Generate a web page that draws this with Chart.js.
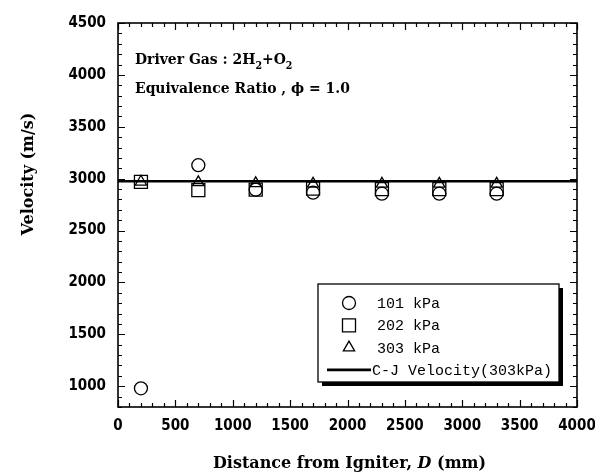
<!DOCTYPE html>
<html>
<head>
<meta charset="utf-8">
<script src="https://cdn.jsdelivr.net/npm/chart.js@4"></script>
<style>
  html, body { margin: 0; padding: 0; background: #fff; }
</style>
</head>
<body>
<canvas id="chart" width="595" height="472"></canvas>
<script>
// distance from igniter (mm)
const distances = [200, 700, 1200, 1700, 2300, 2800, 3300];
// measured velocities (m/s) per initial pressure
const vel101 = [980, 3130, 2895, 2865, 2855, 2855, 2855];
const vel202 = [2970, 2890, 2895, 2905, 2900, 2900, 2900];
const vel303 = [2970, 2965, 2955, 2950, 2950, 2950, 2950];
// C-J velocity line
const cjX = [0, 4000];
const cjY = [2975, 2975];
const seriesLabels = ["101 kPa", "202 kPa", "303 kPa", "C-J Velocity(303kPa)"];
const xTickLabels = [0, 500, 1000, 1500, 2000, 2500, 3000, 3500, 4000];
const yTickLabels = [1000, 1500, 2000, 2500, 3000, 3500, 4000, 4500];

const tickFont = { family: "'Liberation Sans Narrow', 'DejaVu Sans Condensed', sans-serif", size: 15, weight: "bold" };
const serif = "'DejaVu Serif Condensed', 'DejaVu Serif', serif";

const toPoints = (xs, ys) => xs.map((x, i) => ({ x: x, y: ys[i] }));

const marker = (style, r) => ({
  pointStyle: style,
  pointRadius: r,
  pointHoverRadius: r,
  pointBorderColor: "#000",
  pointBackgroundColor: "rgba(0,0,0,0)",
  pointBorderWidth: 1.3,
  showLine: false
});

// inward tick marks + closed frame
const frame = {
  id: "frame",
  afterDraw(chart) {
    const { ctx, chartArea: a, scales: { x, y } } = chart;
    ctx.save();
    ctx.strokeStyle = "#000";
    ctx.lineWidth = 1.2;
    ctx.beginPath();
    for (let v = x.min; v <= x.max; v += 100) {
      const px = Math.round(x.getPixelForValue(v)) + 0.5;
      const len = v % 500 === 0 ? 7 : 4;
      ctx.moveTo(px, a.bottom); ctx.lineTo(px, a.bottom - len);
      ctx.moveTo(px, a.top); ctx.lineTo(px, a.top + len);
    }
    for (let v = y.min; v <= y.max; v += 100) {
      const py = Math.round(y.getPixelForValue(v)) + 0.5;
      const len = v % 500 === 0 ? 7 : 4;
      ctx.moveTo(a.left, py); ctx.lineTo(a.left + len, py);
      ctx.moveTo(a.right, py); ctx.lineTo(a.right - len, py);
    }
    ctx.stroke();
    ctx.lineWidth = 1.6;
    ctx.strokeRect(a.left, a.top, a.right - a.left, a.bottom - a.top);
    ctx.restore();
  }
};

// annotation, axis titles and boxed legend
const texts = {
  id: "texts",
  afterDraw(chart) {
    const { ctx, chartArea: a } = chart;
    ctx.save();
    ctx.fillStyle = "#000";
    ctx.textBaseline = "alphabetic";

    // annotation
    const f = "bold 15.5px " + serif, fs = "bold 10.5px " + serif;
    let x = 135, y = 64;
    const put = (t, font, dy) => { ctx.font = font; ctx.fillText(t, x, y + dy); x += ctx.measureText(t).width; };
    put("Driver Gas : 2H", f, 0); put("2", fs, 5); put("+O", f, 0); put("2", fs, 5);
    x = 135; y = 93;
    put("Equivalence Ratio , ", f, 0); put("\u03D5", f, 0); put(" = 1.0", f, 0);

    // x title with italic D
    const tf = "bold 16px 'DejaVu Serif', serif";
    const parts = [["Distance from Igniter, ", tf], ["D", "italic " + tf], [" (mm)", tf]];
    let w = 0;
    parts.forEach(p => { ctx.font = p[1]; w += ctx.measureText(p[0]).width; });
    x = (a.left + a.right) / 2 - w / 2 + 2; y = 468;
    parts.forEach(p => put(p[0], p[1], 0));

    // y title
    ctx.translate(33, 174);
    ctx.rotate(-Math.PI / 2);
    ctx.font = tf;
    ctx.textAlign = "center";
    ctx.fillText("Velocity (m/s)", 0, 0);
    ctx.setTransform(1, 0, 0, 1, 0, 0);
    ctx.textAlign = "left";

    // legend box with shadow
    const bx = 318, by = 284, bw = 241, bh = 98;
    ctx.fillStyle = "#000";
    ctx.fillRect(bx + 4, by + 4, bw, bh);
    ctx.fillStyle = "#fff";
    ctx.fillRect(bx, by, bw, bh);
    ctx.strokeStyle = "#000";
    ctx.lineWidth = 1.3;
    ctx.strokeRect(bx, by, bw, bh);

    ctx.font = "15px 'Liberation Mono', 'DejaVu Sans Mono', monospace";
    ctx.textBaseline = "middle";
    chart.data.datasets.forEach((ds, i) => {
      const ry = by + 19 + i * 22.3;
      ctx.fillStyle = "#000";
      if (ds.type === "line") {
        ctx.lineWidth = ds.borderWidth;
        ctx.beginPath();
        ctx.moveTo(327, ry); ctx.lineTo(371, ry);
        ctx.stroke();
        ctx.fillText(ds.label, 372, ry + 1);
      } else {
        ctx.fillText(ds.label, 377, ry + 1);
        ctx.fillStyle = "#fff";
        ctx.lineWidth = ds.pointBorderWidth;
        Chart.helpers.drawPoint(ctx, {
          pointStyle: ds.pointStyle, radius: ds.pointRadius, borderWidth: ds.pointBorderWidth
        }, 349, ry);
      }
    });
    ctx.restore();
  }
};

new Chart(document.getElementById("chart"), {
  type: "scatter",
  data: {
    datasets: [
      Object.assign({ label: seriesLabels[0], data: toPoints(distances, vel101) }, marker("circle", 6.5)),
      Object.assign({ label: seriesLabels[1], data: toPoints(distances, vel202) }, marker("rect", 9.2)),
      Object.assign({ label: seriesLabels[2], data: toPoints(distances, vel303) }, marker("triangle", 6.5)),
      {
        type: "line",
        label: seriesLabels[3],
        data: toPoints(cjX, cjY),
        borderColor: "#000",
        borderWidth: 2.6,
        pointRadius: 0,
        fill: false
      }
    ]
  },
  options: {
    responsive: false,
    animation: false,
    layout: { padding: { top: 23, right: 18, left: 0, bottom: 0 } },
    plugins: { legend: { display: false }, tooltip: { enabled: false } },
    scales: {
      x: {
        type: "linear",
        min: xTickLabels[0],
        max: xTickLabels[xTickLabels.length - 1],
        afterBuildTicks: s => { s.ticks = xTickLabels.map(v => ({ value: v })); },
        afterFit: s => { s.height = 65; s.paddingLeft = 0; s.paddingRight = 0; },
        grid: { display: false, drawTicks: false },
        border: { display: false },
        ticks: { color: "#000", font: tickFont, padding: 10, maxRotation: 0, callback: v => String(v) }
      },
      y: {
        type: "linear",
        min: 800,
        max: yTickLabels[yTickLabels.length - 1],
        afterBuildTicks: s => { s.ticks = yTickLabels.map(v => ({ value: v })); },
        afterFit: s => { s.width = 118; s.paddingTop = 0; s.paddingBottom = 0; },
        grid: { display: false, drawTicks: false },
        border: { display: false },
        ticks: { color: "#000", font: tickFont, padding: 12, callback: v => String(v) }
      }
    }
  },
  plugins: [frame, texts]
});
</script>
</body>
</html>
